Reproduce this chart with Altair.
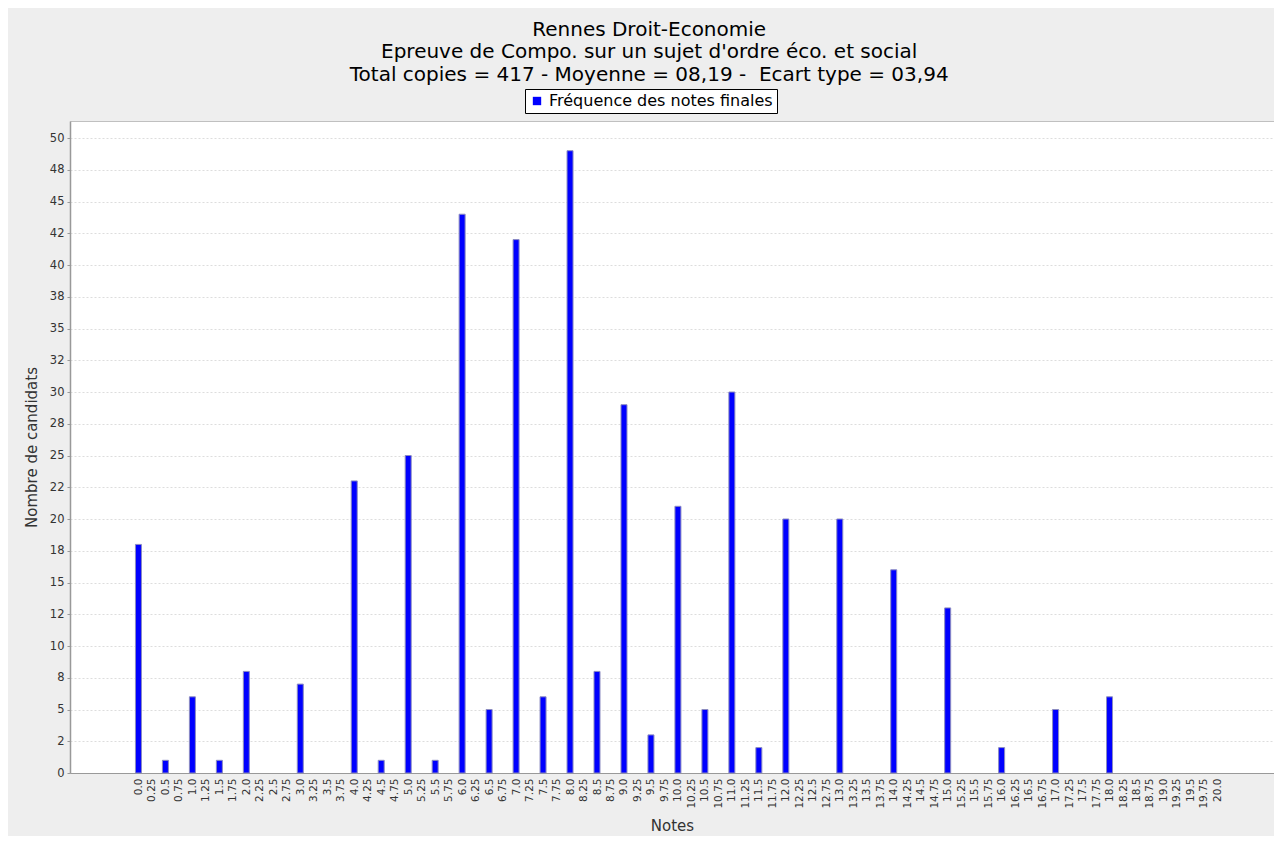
import altair as alt
import pandas as pd

# Categories (notes) and frequencies
notes = [
    "0.0", "0.25", "0.5", "0.75",
    "1.0", "1.25", "1.5", "1.75",
    "2.0", "2.25", "2.5", "2.75",
    "3.0", "3.25", "3.5", "3.75",
    "4.0", "4.25", "4.5", "4.75",
    "5.0", "5.25", "5.5", "5.75",
    "6.0", "6.25", "6.5", "6.75",
    "7.0", "7.25", "7.5", "7.75",
    "8.0", "8.25", "8.5", "8.75",
    "9.0", "9.25", "9.5", "9.75",
    "10.0", "10.25", "10.5", "10.75",
    "11.0", "11.25", "11.5", "11.75",
    "12.0", "12.25", "12.5", "12.75",
    "13.0", "13.25", "13.5", "13.75",
    "14.0", "14.25", "14.5", "14.75",
    "15.0", "15.25", "15.5", "15.75",
    "16.0", "16.25", "16.5", "16.75",
    "17.0", "17.25", "17.5", "17.75",
    "18.0", "18.25", "18.5", "18.75",
    "19.0", "19.25", "19.5", "19.75",
    "20.0",
]
counts = [
    18, 0, 1, 0,
    6, 0, 1, 0,
    8, 0, 0, 0,
    7, 0, 0, 0,
    23, 0, 1, 0,
    25, 0, 1, 0,
    44, 0, 5, 0,
    42, 0, 6, 0,
    49, 0, 8, 0,
    29, 0, 3, 0,
    21, 0, 5, 0,
    30, 0, 2, 0,
    20, 0, 0, 0,
    20, 0, 0, 0,
    16, 0, 0, 0,
    13, 0, 0, 0,
    2, 0, 0, 0,
    5, 0, 0, 0,
    6, 0, 0, 0,
    0, 0, 0, 0,
    0,
]
series_name = "Fréquence des notes finales"
y_ticks = [0, 2.5, 5, 7.5, 10, 12.5, 15, 17.5, 20, 22.5, 25, 27.5, 30,
           32.5, 35, 37.5, 40, 42.5, 45, 47.5, 50]
title_lines = [
    "Rennes Droit-Economie",
    "Epreuve de Compo. sur un sujet d'ordre éco. et social",
    "Total copies = 417 - Moyenne = 08,19 - \u00a0Ecart type = 03,94",
]

note_values = [float(s) for s in notes]
df = pd.DataFrame({"note": note_values, "n": counts, "serie": series_name})

FONT = "DejaVu Sans"

chart = (
    alt.Chart(df)
    .transform_filter("datum.n > 0")
    .mark_bar(size=6, stroke="#8c8cc0", strokeWidth=1)
    .encode(
        x=alt.X(
            "note:Q",
            scale=alt.Scale(domain=[-1.176, 20.956], nice=False, zero=False),
            axis=alt.Axis(
                title="Notes",
                values=note_values,
                labelExpr="datum.value == floor(datum.value) ? format(datum.value, '.1f') : format(datum.value, '.2~f')",
                labelAngle=270,
                labelAlign="right",
                labelBaseline="middle",
                labelFontSize=10.5,
                labelColor="#333333",
                labelPadding=5,
                ticks=False,
                domainColor="#999999",
                domainWidth=1,
                grid=False,
                titleFontSize=15,
                titleFontWeight="normal",
                titleColor="#333333",
                titlePadding=10,
                labelOverlap=False,
                labelFlush=False,
            ),
        ),
        y=alt.Y(
            "n:Q",
            scale=alt.Scale(domain=[0, 51.34], nice=False),
            axis=alt.Axis(
                title="Nombre de candidats",
                values=y_ticks,
                labelExpr="floor(datum.value) % 2 == 0 ? floor(datum.value) : ceil(datum.value)",
                labelFontSize=11.5,
                labelColor="#333333",
                labelPadding=3,
                tickSize=3,
                tickColor="#999999",
                domainColor="#999999",
                domainWidth=1.5,
                grid=True,
                gridColor="#d4d4d4",
                gridDash=[2, 2],
                gridWidth=0.8,
                titleFontSize=15,
                titleFontWeight="normal",
                titleColor="#333333",
                titlePadding=10,
                labelOverlap=False,
                labelFlush=False,
            ),
        ),
        color=alt.Color(
            "serie:N",
            scale=alt.Scale(range=["#0000ff"]),
            legend=alt.Legend(
                title=None,
                orient="none",
                legendX=455,
                legendY=-32,
                fillColor="#ffffff",
                strokeColor="#000000",
                padding=4,
                labelFontSize=16,
                labelFont=FONT,
                labelColor="#000000",
                labelLimit=400,
                symbolType="square",
                symbolSize=70,
                symbolStrokeColor="#0000ff",
                symbolStrokeWidth=0,
                labelOffset=4,
                cornerRadius=0,
            ),
        ),
    )
    .properties(
        width=1204,
        height=652,
        autosize=alt.AutoSizeParams(type="none"),
        padding={"left": 62, "top": 113, "right": 0, "bottom": 63},
        background="#eeeeee",
        title=alt.Title(
            text=title_lines,
            fontSize=20,
            font=FONT,
            fontWeight="normal",
            color="#000000",
            anchor="middle",
            frame="bounds",
            lineHeight=22.5,
            offset=4,
        ),
    )
    .configure_view(fill="#ffffff", stroke="#c0c0c0", strokeWidth=1)
    .configure_axis(labelFont=FONT, titleFont=FONT)
)

chart.save("out.html", embed_options={"renderer": "svg", "actions": False})
